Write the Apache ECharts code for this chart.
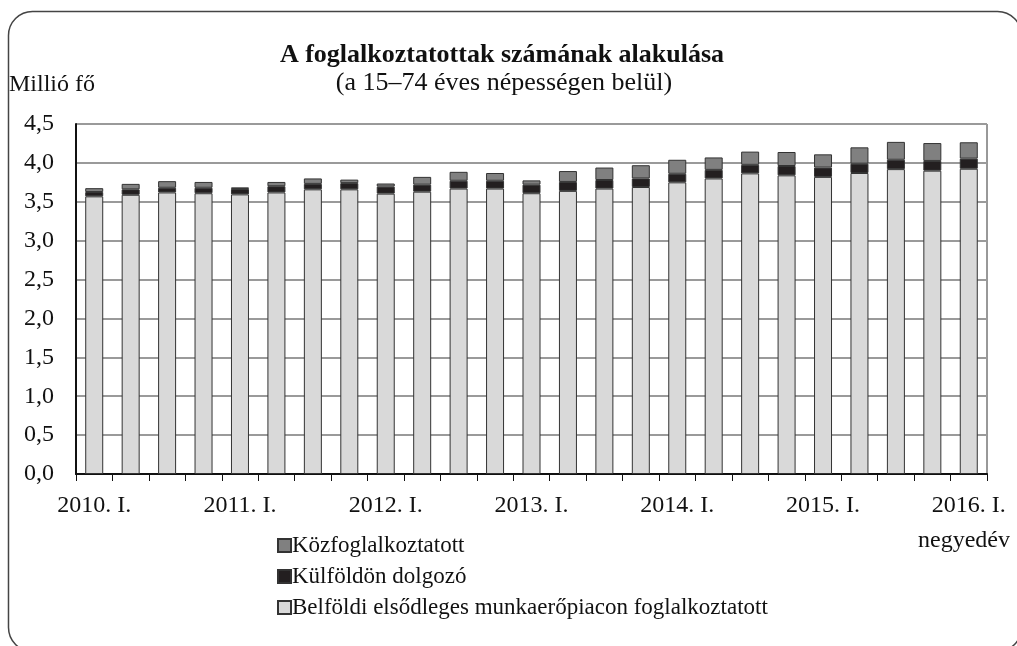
<!DOCTYPE html>
<html>
<head>
<meta charset="utf-8">
<script src="https://cdn.jsdelivr.net/npm/echarts@6/dist/echarts.min.js"></script>
<style>
  html, body { margin: 0; padding: 0; background: #fff; }
  #chart { width: 1017px; height: 646px; }
</style>
</head>
<body>
<div id="chart"></div>
<script>
// quarters 2010 Q1 .. 2016 Q1
const categories = [
  '2010. I.', '', '', '',
  '2011. I.', '', '', '',
  '2012. I.', '', '', '',
  '2013. I.', '', '', '',
  '2014. I.', '', '', '',
  '2015. I.', '', '', '',
  '2016. I.'
]
// Belföldi elsődleges munkaerőpiacon foglalkoztatott (millió fő)
const domestic = [
  3.57, 3.59, 3.62, 3.61, 3.595, 3.62, 3.66, 3.66,
  3.605, 3.63, 3.67, 3.67, 3.61, 3.64, 3.67, 3.69,
  3.75, 3.80, 3.865, 3.84, 3.82, 3.87, 3.92, 3.90,
  3.925
]
// Külföldön dolgozó
const abroad = [
  0.055, 0.07, 0.06, 0.07, 0.07, 0.08, 0.07, 0.08,
  0.09, 0.09, 0.10, 0.10, 0.11, 0.115, 0.11, 0.11,
  0.11, 0.11, 0.11, 0.12, 0.12, 0.12, 0.12, 0.125,
  0.13
]
// Közfoglalkoztatott
const publicWork = [
  0.05, 0.07, 0.085, 0.075, 0.02, 0.055, 0.07, 0.045,
  0.04, 0.10, 0.115, 0.10, 0.055, 0.14, 0.16, 0.17,
  0.18, 0.16, 0.17, 0.18, 0.17, 0.21, 0.23, 0.23,
  0.21
]
const yTicks = { min: 0, max: 4.5, interval: 0.5 }

const fontFamily = '"Liberation Serif", "DejaVu Serif", serif'
const textColor = '#111'
const names = [
  'Belföldi elsődleges munkaerőpiacon foglalkoztatott',
  'Külföldön dolgozó',
  'Közfoglalkoztatott'
]

const chart = echarts.init(document.getElementById('chart'), null, { renderer: 'canvas' })

const barStyle = (color) => ({
  color: color,
  borderColor: '#333',
  borderWidth: 1
})

chart.setOption({
  animation: false,
  backgroundColor: '#fff',
  textStyle: { fontFamily: fontFamily, color: textColor },
  graphic: [
    {
      type: 'rect',
      shape: { x: 8.5, y: 11.5, width: 1013, height: 640, r: 24 },
      style: { fill: 'none', stroke: '#444', lineWidth: 1.5 },
      silent: true
    },
    {
      type: 'text',
      x: 502,
      y: 42,
      style: {
        text: 'A foglalkoztatottak számának alakulása',
        font: 'bold 26px ' + fontFamily,
        fill: textColor,
        align: 'center'
      }
    },
    {
      type: 'text',
      x: 504,
      y: 70,
      style: {
        text: '(a 15–74 éves népességen belül)',
        font: '26px ' + fontFamily,
        fill: textColor,
        align: 'center'
      }
    },
    {
      type: 'text',
      x: 9,
      y: 73,
      style: { text: 'Millió fő', font: '24px ' + fontFamily, fill: textColor }
    },
    {
      type: 'text',
      x: 1010,
      y: 529,
      style: { text: 'negyedév', font: '24px ' + fontFamily, fill: textColor, align: 'right' }
    }
  ],
  legend: {
    orient: 'vertical',
    left: 272,
    top: 529,
    itemGap: 8,
    itemWidth: 13,
    itemHeight: 13,
    icon: 'rect',
    data: [names[2], names[1], names[0]],
    textStyle: { fontFamily: fontFamily, fontSize: 23, color: textColor, padding: [0, 0, 0, -4] }
  },
  grid: {
    left: 76,
    top: 124,
    width: 911,
    height: 350,
    show: true,
    borderColor: '#333',
    borderWidth: 1,
    containLabel: false
  },
  xAxis: {
    type: 'category',
    data: categories,
    boundaryGap: true,
    axisLine: { show: true, lineStyle: { color: '#111', width: 2 } },
    axisTick: { show: true, interval: 0, length: 7, lineStyle: { color: '#111', width: 1 } },
    axisLabel: {
      interval: 0,
      margin: 20,
      fontFamily: fontFamily,
      fontSize: 24,
      color: textColor
    },
    splitLine: { show: false }
  },
  yAxis: {
    type: 'value',
    min: yTicks.min,
    max: yTicks.max,
    interval: yTicks.interval,
    axisLine: { show: true, lineStyle: { color: '#111', width: 2 } },
    axisTick: { show: false },
    axisLabel: {
      margin: 22,
      fontFamily: fontFamily,
      fontSize: 24,
      color: textColor,
      formatter: (v) => v.toFixed(1).replace('.', ',')
    },
    splitLine: { show: true, lineStyle: { color: '#9a9a9a', width: 2 } }
  },
  series: [
    {
      name: names[0],
      type: 'bar',
      stack: 'total',
      barWidth: 18,
      data: domestic,
      itemStyle: barStyle('#d9d9d9')
    },
    {
      name: names[1],
      type: 'bar',
      stack: 'total',
      barWidth: 18,
      data: abroad,
      itemStyle: barStyle('#231f20')
    },
    {
      name: names[2],
      type: 'bar',
      stack: 'total',
      barWidth: 18,
      data: publicWork,
      itemStyle: barStyle('#808080')
    }
  ]
})
</script>
</body>
</html>
